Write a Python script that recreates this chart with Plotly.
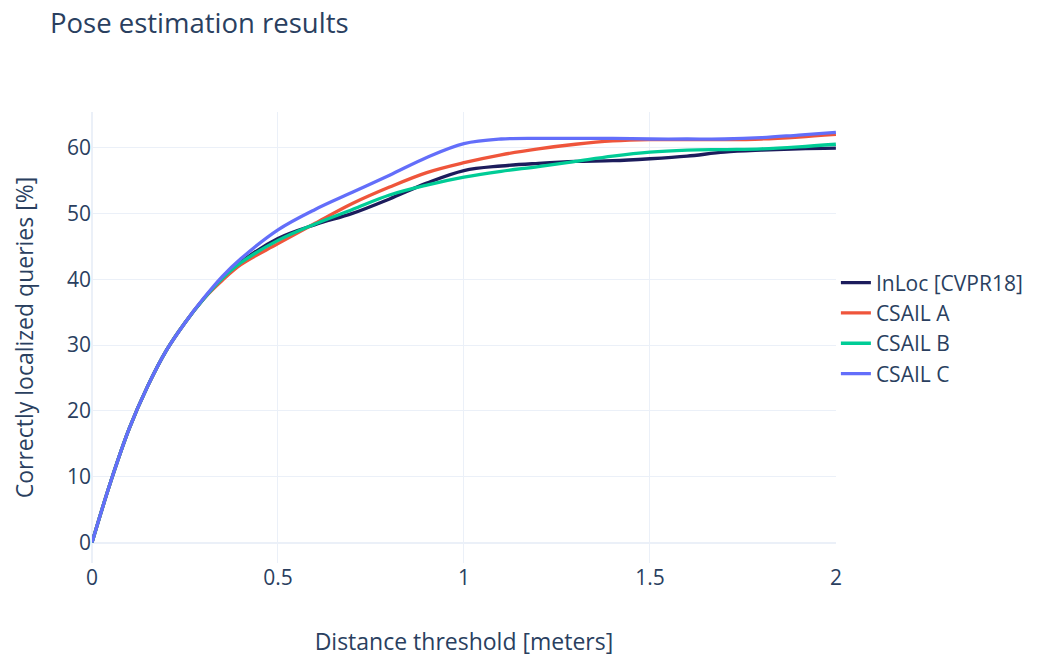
import plotly.graph_objects as go

distance = [0, 0.05, 0.1, 0.15, 0.2, 0.25, 0.3, 0.35, 0.4, 0.5, 0.6, 0.7, 0.8, 0.9, 1.0,
            1.1, 1.2, 1.3, 1.4, 1.5, 1.6, 1.7, 1.8, 1.9, 2.0]

inloc = [0, 9.2, 17.3, 23.8, 29.2, 33.4, 37.0, 40.1, 42.6, 46.2, 48.3, 50.0, 52.2, 54.6, 56.5,
         57.2, 57.6, 57.9, 58.0, 58.3, 58.7, 59.3, 59.6, 59.8, 59.9]
csail_a = [0, 9.2, 17.3, 23.8, 29.2, 33.4, 37.0, 39.8, 42.2, 45.4, 48.5, 51.5, 54.0, 56.2, 57.7,
           58.9, 59.8, 60.5, 61.0, 61.2, 61.2, 61.2, 61.3, 61.6, 62.0]
csail_b = [0, 9.2, 17.3, 23.8, 29.2, 33.4, 37.0, 40.1, 42.5, 45.9, 48.4, 50.6, 52.8, 54.3, 55.5,
           56.4, 57.1, 57.9, 58.7, 59.3, 59.6, 59.7, 59.8, 60.1, 60.5]
csail_c = [0, 9.2, 17.3, 23.8, 29.2, 33.4, 37.1, 40.4, 43.1, 47.5, 50.6, 53.2, 55.8, 58.5, 60.6,
           61.3, 61.4, 61.4, 61.4, 61.3, 61.3, 61.3, 61.5, 61.9, 62.3]

names = ["InLoc [CVPR18]", "CSAIL A", "CSAIL B", "CSAIL C"]
colors = ["#1c1c5c", "#EF553B", "#00CC96", "#636EFA"]
series = [inloc, csail_a, csail_b, csail_c]

fig = go.Figure()
for name, color, vals in zip(names, colors, series):
    fig.add_trace(go.Scatter(x=distance, y=vals, mode="lines", name=name,
                             line=dict(color=color, width=3.3, shape="spline")))

fig.update_layout(
    template="plotly_white",
    width=1031, height=649,
    font=dict(family="Open Sans", size=21, color="#2a3f5f"),
    title=dict(text="Pose estimation results", x=0.0407, xanchor="left",
               y=0.976, yanchor="middle", yref="container", font=dict(size=27.5)),
    margin=dict(l=84, r=203, t=104, b=94),
    legend=dict(xref="container", x=0.803, xanchor="left", y=0.52, yanchor="middle",
                font=dict(size=21)),
    xaxis=dict(title=dict(text="Distance threshold [meters]", font=dict(size=23), standoff=48),
               automargin=False,
               range=[0, 2], tickvals=[0, 0.5, 1, 1.5, 2], ticktext=["0", "0.5", "1", "1.5", "2"]),
    yaxis=dict(title=dict(text="Correctly localized queries [%]", font=dict(size=23), standoff=32),
               automargin=False,
               range=[-3.1, 65.4], tickvals=[0, 10, 20, 30, 40, 50, 60]),
)

fig.write_html("out.html")
